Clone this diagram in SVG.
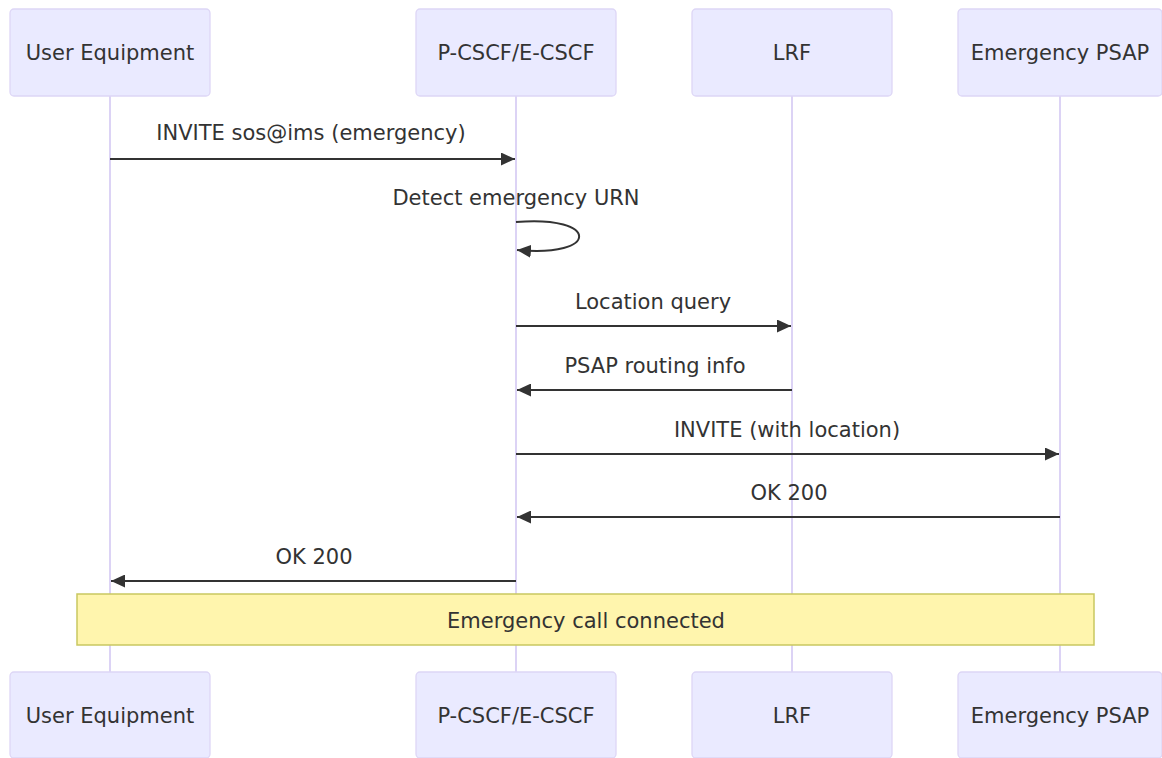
<svg xmlns="http://www.w3.org/2000/svg" width="1162" height="758" viewBox="0 0 1162 758">
<style>
.actor{fill:#eaeaff;stroke:#ddd6f6;stroke-width:1.3}
.atext{font-family:"DejaVu Sans",Verdana,sans-serif;font-size:21px;fill:#333;text-anchor:middle;dominant-baseline:central}
.life{stroke:#dcd3f5;stroke-width:2}
.msg{stroke:#333;stroke-width:2;fill:none}
.mtext{font-family:"DejaVu Sans",Verdana,sans-serif;font-size:21px;fill:#333;text-anchor:middle}
.note{fill:#fff5ad;stroke:#c9c760;stroke-width:1.5}
</style>
<defs>
<marker id="arrow" viewBox="0 0 14 13" refX="14" refY="6.5" markerWidth="14" markerHeight="13" markerUnits="userSpaceOnUse" orient="auto">
<path d="M0,0 L14,6.5 L0,13 z" fill="#333"/>
</marker>
</defs>
<g id="lifelines">
<line class="life" x1="110" y1="96" x2="110" y2="672"/>
<line class="life" x1="516" y1="96" x2="516" y2="672"/>
<line class="life" x1="792" y1="96" x2="792" y2="672"/>
<line class="life" x1="1060" y1="96" x2="1060" y2="672"/>
</g>
<g id="actor-ue-top"><rect class="actor" x="10" y="9" width="200" height="87" rx="4"/><text class="atext" x="110" y="53">User Equipment</text></g>
<g id="actor-cscf-top"><rect class="actor" x="416" y="9" width="200" height="87" rx="4"/><text class="atext" x="516" y="53">P-CSCF/E-CSCF</text></g>
<g id="actor-lrf-top"><rect class="actor" x="692" y="9" width="200" height="87" rx="4"/><text class="atext" x="792" y="53">LRF</text></g>
<g id="actor-psap-top"><rect class="actor" x="958" y="9" width="204" height="87" rx="4"/><text class="atext" x="1060" y="53">Emergency PSAP</text></g>
<g id="actor-ue-bottom"><rect class="actor" x="10" y="672" width="200" height="86" rx="4"/><text class="atext" x="110" y="716">User Equipment</text></g>
<g id="actor-cscf-bottom"><rect class="actor" x="416" y="672" width="200" height="86" rx="4"/><text class="atext" x="516" y="716">P-CSCF/E-CSCF</text></g>
<g id="actor-lrf-bottom"><rect class="actor" x="692" y="672" width="200" height="86" rx="4"/><text class="atext" x="792" y="716">LRF</text></g>
<g id="actor-psap-bottom"><rect class="actor" x="958" y="672" width="204" height="86" rx="4"/><text class="atext" x="1060" y="716">Emergency PSAP</text></g>
<g id="connectors">
<line class="msg" x1="110" y1="159" x2="515" y2="159" marker-end="url(#arrow)"/>
<text class="mtext" x="311" y="140">INVITE sos@ims (emergency)</text>
<path class="msg" d="M516,222 C600,215 600,258 517,250" marker-end="url(#arrow)"/>
<text class="mtext" x="516" y="205">Detect emergency URN</text>
<line class="msg" x1="516" y1="326" x2="791" y2="326" marker-end="url(#arrow)"/>
<text class="mtext" x="653" y="309">Location query</text>
<line class="msg" x1="792" y1="390" x2="517" y2="390" marker-end="url(#arrow)"/>
<text class="mtext" x="655" y="373">PSAP routing info</text>
<line class="msg" x1="516" y1="454" x2="1059" y2="454" marker-end="url(#arrow)"/>
<text class="mtext" x="787" y="437">INVITE (with location)</text>
<line class="msg" x1="1060" y1="517" x2="517" y2="517" marker-end="url(#arrow)"/>
<text class="mtext" x="789" y="500">OK 200</text>
<line class="msg" x1="516" y1="581" x2="111" y2="581" marker-end="url(#arrow)"/>
<text class="mtext" x="314" y="564">OK 200</text>
</g>
<g id="note">
<rect class="note" x="77" y="594" width="1017" height="51"/>
<text class="mtext" x="586" y="628">Emergency call connected</text>
</g>
</svg>
